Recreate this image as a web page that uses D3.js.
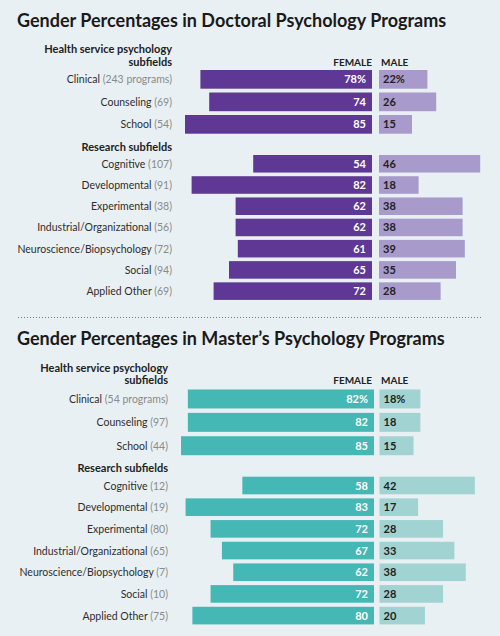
<!DOCTYPE html>
<html>
<head>
<meta charset="utf-8">
<script src="https://cdn.jsdelivr.net/npm/d3@7"></script>
<style>
  body { margin: 0; background: #e9f0f3; }
  svg { display: block; font-family: Lato, "Open Sans", sans-serif; }
  .title { font-size: 18px; font-weight: bold; fill: #1a1a1a; }
  .head { font-size: 11px; font-weight: bold; fill: #222; }
  .col { font-size: 10px; font-weight: bold; fill: #222; }
  .cat { font-size: 10.5px; fill: #2e2e2e; }
  .cnt { fill: #8a8a8a; }
  .val { font-size: 11px; font-weight: bold; }
</style>
</head>
<body>
<div id="chart"></div>
<script>
// doctoral programs
var docHealthNames = ["Clinical", "Counseling", "School"];
var docHealthCounts = ["243 programs", "69", "54"];
var docHealthFemale = [78, 74, 85];
var docHealthMale = [22, 26, 15];

var docResNames = ["Cognitive", "Developmental", "Experimental", "Industrial/Organizational",
  "Neuroscience/Biopsychology", "Social", "Applied Other"];
var docResCounts = ["107", "91", "38", "56", "72", "94", "69"];
var docResFemale = [54, 82, 62, 62, 61, 65, 72];
var docResMale = [46, 18, 38, 38, 39, 35, 28];

// master's programs
var mstHealthNames = ["Clinical", "Counseling", "School"];
var mstHealthCounts = ["54 programs", "97", "44"];
var mstHealthFemale = [82, 82, 85];
var mstHealthMale = [18, 18, 15];

var mstResNames = ["Cognitive", "Developmental", "Experimental", "Industrial/Organizational",
  "Neuroscience/Biopsychology", "Social", "Applied Other"];
var mstResCounts = ["12", "19", "80", "65", "7", "10", "75"];
var mstResFemale = [58, 83, 72, 67, 62, 72, 80];
var mstResMale = [42, 17, 28, 33, 38, 28, 20];

var svg = d3.select("#chart").append("svg")
  .attr("width", 500)
  .attr("height", 636);

function zip(names, counts, female, male) {
  return names.map(function(n, i) {
    return { name: n, count: counts[i], female: female[i], male: male[i] };
  });
}

// draws one group of rows (health or research)
function drawRows(g, rows, opt) {
  var y = d3.scaleBand()
    .domain(rows.map(d => d.name))
    .range([opt.top, opt.top + opt.step * rows.length + (opt.step - opt.barH)])
    .paddingInner(1 - opt.barH / opt.step)
    .paddingOuter(0);

  var x = opt.x;

  var row = g.selectAll("g.row-" + opt.key)
    .data(rows)
    .enter().append("g")
    .attr("class", "row-" + opt.key);

  row.append("rect")
    .attr("x", d => opt.femaleEnd - x(d.female))
    .attr("y", d => y(d.name))
    .attr("width", d => x(d.female))
    .attr("height", y.bandwidth())
    .attr("fill", opt.femaleColor);

  row.append("rect")
    .attr("x", opt.maleStart)
    .attr("y", d => y(d.name))
    .attr("width", d => x(d.male))
    .attr("height", y.bandwidth())
    .attr("fill", opt.maleColor);

  row.append("text")
    .attr("class", "val")
    .attr("x", opt.femaleEnd - 6)
    .attr("y", d => y(d.name) + y.bandwidth() / 2 + 4)
    .attr("text-anchor", "end")
    .attr("fill", "#fff")
    .text((d, i) => d.female + (opt.pct && i === 0 ? "%" : ""));

  row.append("text")
    .attr("class", "val")
    .attr("x", opt.maleStart + 4)
    .attr("y", d => y(d.name) + y.bandwidth() / 2 + 4)
    .attr("fill", "#222")
    .text((d, i) => d.male + (opt.pct && i === 0 ? "%" : ""));

  var lab = row.append("text")
    .attr("class", "cat")
    .attr("x", opt.labelX)
    .attr("y", d => y(d.name) + y.bandwidth() / 2 + 4)
    .attr("text-anchor", "end");
  lab.append("tspan").text(d => d.name + " ");
  lab.append("tspan").attr("class", "cnt").text(d => "(" + d.count + ")");
}

function drawSection(cfg) {
  var g = svg.append("g");

  g.append("text")
    .attr("class", "title")
    .attr("x", 17)
    .attr("y", cfg.titleY)
    .text(cfg.title);

  g.append("text")
    .attr("class", "head")
    .attr("x", cfg.labelX)
    .attr("y", cfg.headY)
    .attr("text-anchor", "end")
    .text("Health service psychology");
  g.append("text")
    .attr("class", "head")
    .attr("x", cfg.labelX)
    .attr("y", cfg.headY + 12.5)
    .attr("text-anchor", "end")
    .text("subfields");

  g.append("text")
    .attr("class", "col")
    .attr("x", 372)
    .attr("y", cfg.headY + 12.5)
    .attr("text-anchor", "end")
    .text("FEMALE");
  g.append("text")
    .attr("class", "col")
    .attr("x", 381)
    .attr("y", cfg.headY + 12.5)
    .text("MALE");

  var x = d3.scaleLinear().domain([0, 100]).range([0, cfg.pxPer100]);

  drawRows(g, cfg.health, {
    key: "h", top: cfg.healthTop, step: cfg.healthStep, barH: 16.7, x: x,
    femaleEnd: cfg.femaleEnd, maleStart: cfg.maleStart, labelX: cfg.labelX,
    femaleColor: cfg.femaleColor, maleColor: cfg.maleColor, pct: true
  });

  g.append("text")
    .attr("class", "head")
    .attr("x", cfg.labelX)
    .attr("y", cfg.resHeadY)
    .attr("text-anchor", "end")
    .text("Research subfields");

  drawRows(g, cfg.research, {
    key: "r", top: cfg.resTop, step: cfg.resStep, barH: 16.7, x: x,
    femaleEnd: cfg.femaleEnd, maleStart: cfg.maleStart, labelX: cfg.labelX,
    femaleColor: cfg.femaleColor, maleColor: cfg.maleColor, pct: false
  });
}

drawSection({
  title: "Gender Percentages in Doctoral Psychology Programs",
  titleY: 27, headY: 53, labelX: 172,
  healthTop: 70, healthStep: 20.1, resHeadY: 150.5, resTop: 155, resStep: 20.2,
  femaleEnd: 372, maleStart: 379, pxPer100: 220,
  femaleColor: "#5f3795", maleColor: "#a89acb",
  health: zip(docHealthNames, docHealthCounts, docHealthFemale, docHealthMale),
  research: zip(docResNames, docResCounts, docResFemale, docResMale)
});

// dotted separator
svg.append("line")
  .attr("x1", 18).attr("x2", 482)
  .attr("y1", 317.5).attr("y2", 317.5)
  .attr("stroke", "#777")
  .attr("stroke-width", 1)
  .attr("stroke-dasharray", "1,2");

drawSection({
  title: "Gender Percentages in Master\u2019s Psychology Programs",
  titleY: 345, headY: 371.5, labelX: 168,
  healthTop: 389.5, healthStep: 20.6, resHeadY: 471.5, resTop: 476.7, resStep: 20.55,
  femaleEnd: 374, maleStart: 379.5, pxPer100: 227,
  femaleColor: "#45b7b5", maleColor: "#a0d3d2",
  health: zip(mstHealthNames, mstHealthCounts, mstHealthFemale, mstHealthMale),
  research: zip(mstResNames, mstResCounts, mstResFemale, mstResMale)
});
</script>
</body>
</html>
